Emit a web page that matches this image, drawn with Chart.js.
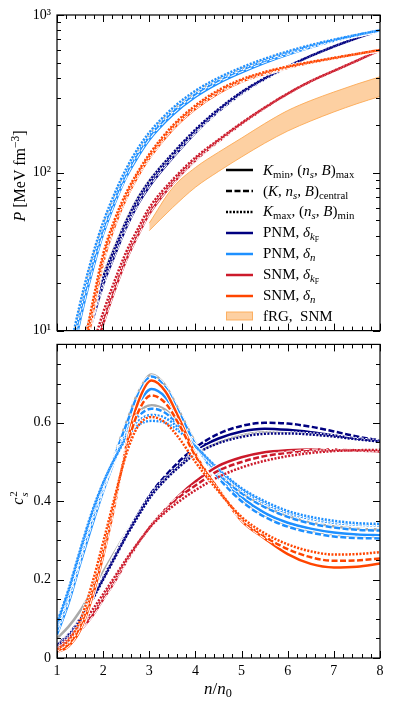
<!DOCTYPE html>
<html>
<head>
<meta charset="utf-8">
<script src="https://cdn.jsdelivr.net/npm/chart.js@4.4.1/dist/chart.umd.min.js"></script>
<style>
  html, body { margin: 0; padding: 0; background: #fff; }
  body { position: relative; width: 395px; height: 704px; overflow: hidden;
         font-family: "Liberation Serif", "DejaVu Serif", serif; color: #000; }
  canvas { position: absolute; left: 0; }
  #topChart { top: 0; }
  #botChart { top: 330px; }
  .lab { position: absolute; white-space: nowrap; font-size: 16px; line-height: 1; }
  .rot { transform: translate(-50%, -50%) rotate(-90deg); }
  .ctr { transform: translate(-50%, -50%); }
  sub, sup { font-size: 72%; line-height: 0; }
  sub { vertical-align: -0.3em; }
  sup { vertical-align: 0.55em; }
  .ss { display: inline-block; vertical-align: middle; font-size: 11px; line-height: 1; text-align: left; margin-left: 1px; }
  .ss span { display: block; }
  .row { position: absolute; left: 226px; height: 18px; display: flex; align-items: center; font-size: 15px; white-space: nowrap; }
  .row svg { flex: none; margin-right: 10px; }
</style>
</head>
<body>
<canvas id="topChart" width="395" height="345" style="width:395px;height:345px"></canvas>
<canvas id="botChart" width="395" height="374" style="width:395px;height:374px"></canvas>

<div class="lab rot" style="left:20px;top:176px"><i>P</i> [MeV fm<sup>&minus;3</sup>]</div>
<div class="lab rot" style="left:19px;top:498px"><i>c</i><span class="ss"><span>2</span><span><i>s</i></span></span></div>
<div class="lab ctr" style="left:218px;top:688px;font-size:17px"><i>n</i>/<i>n</i><sub>0</sub></div>
<div id="legend"></div>

<script>
// density grids n/n0
const nTop = [1, 1.2, 1.4, 1.6, 1.8, 2, 2.25, 2.5, 2.75, 3, 3.5, 4, 4.5, 5, 5.5, 6, 6.5, 7, 7.5, 8]
const nBot = [1, 1.25, 1.5, 1.75, 2, 2.25, 2.5, 2.75, 3.05, 3.35, 3.65, 4, 4.5, 5, 5.5, 6, 6.5, 7, 7.5, 8]
const nBand = [3, 3.5, 4, 4.5, 5, 5.5, 6, 6.5, 7, 7.5, 8]

// pressure P [MeV fm^-3]; Min = K_min,(n_s,B)_max  Cen = central  Max = K_max,(n_s,B)_min
const pPnmKfMin = [1.2, 2.5, 4.6, 7.8, 12.5, 19.5, 30, 45, 63, 82, 124, 180, 245, 318, 392, 468, 548, 630, 714, 800]
const pPnmKfCen = [1.3, 2.7, 4.9, 8.3, 13.3, 20.5, 31.5, 47, 65.5, 85, 128, 184, 249, 322, 395, 470, 550, 631, 714, 800]
const pPnmKfMax = [1.4, 2.9, 5.3, 8.9, 14.2, 21.8, 33.3, 49.3, 68.5, 88.5, 132, 188, 253, 325, 398, 472, 551, 632, 715, 800]
const pPnmNMin = [1.9, 4.2, 8.5, 15.5, 26, 41, 64, 94, 126, 162, 232, 303, 370, 433, 498, 562, 625, 686, 744, 800]
const pPnmNCen = [2.2, 4.8, 9.6, 17.2, 28.5, 44, 68, 99, 133, 170, 243, 316, 385, 449, 513, 575, 635, 692, 747, 800]
const pPnmNMax = [2.6, 5.7, 11, 19.5, 32, 48.5, 74, 106, 142, 180, 256, 331, 400, 465, 528, 588, 645, 698, 749, 800]
const pSnmKfMin = [0.6, 1.3, 2.5, 4.3, 7, 11, 18, 28, 40, 55, 85, 120, 158, 204, 257, 316, 380, 442, 513, 600]
const pSnmKfCen = [0.65, 1.4, 2.7, 4.6, 7.5, 11.7, 19, 29.3, 41.5, 57, 87, 122, 160, 205, 258, 317, 380, 442, 513, 600]
const pSnmKfMax = [0.75, 1.6, 3.1, 5.2, 8.4, 13, 20.7, 31.5, 44, 60, 90, 125, 162, 207, 259, 318, 381, 443, 514, 600]
const pSnmNMin = [1, 2.2, 4, 7, 14, 27, 46, 69, 95, 124, 188, 255, 320, 378, 424, 463, 498, 530, 565, 600]
const pSnmNCen = [1.1, 2.4, 4.4, 7.7, 15, 28.5, 48, 71.5, 98, 127, 193, 261, 327, 385, 430, 468, 501, 533, 566, 600]
const pSnmNMax = [1.2, 2.7, 4.9, 8.5, 16.5, 30.5, 50.5, 74.5, 101, 131, 198, 267, 334, 391, 435, 472, 504, 535, 567, 600]
const pGreyA = [1.4, 3, 5.5, 9.3, 14.8, 22.5, 34, 50, 69, 89, 131, 186, 250, 322, 395, 470, 549, 630, 714, 800]
const pGreyB = [2.4, 5.3, 10.4, 18.5, 30.5, 46.5, 71, 102, 137, 175, 249, 323, 392, 457, 520, 581, 640, 695, 748, 800]
const pBandHigh = [48, 80, 108, 135, 166, 205, 248, 287, 325, 365, 406]
const pBandLow = [43, 60, 81, 102, 126, 154, 184, 213, 243, 274, 305]

// speed of sound squared c_s^2
const csPnmKfMin = [0.035, 0.06, 0.1, 0.15, 0.205, 0.26, 0.315, 0.365, 0.42, 0.46, 0.495, 0.53, 0.56, 0.578, 0.585, 0.582, 0.576, 0.568, 0.56, 0.553]
const csPnmKfCen = [0.033, 0.058, 0.098, 0.148, 0.203, 0.258, 0.313, 0.365, 0.422, 0.465, 0.502, 0.537, 0.572, 0.592, 0.6, 0.598, 0.59, 0.578, 0.565, 0.555]
const csPnmKfMax = [0.03, 0.055, 0.095, 0.145, 0.2, 0.255, 0.31, 0.36, 0.415, 0.455, 0.488, 0.52, 0.548, 0.564, 0.572, 0.573, 0.57, 0.565, 0.558, 0.552]
const csPnmNMin = [0.06, 0.14, 0.24, 0.335, 0.425, 0.505, 0.58, 0.645, 0.686, 0.665, 0.61, 0.54, 0.465, 0.41, 0.37, 0.345, 0.33, 0.32, 0.315, 0.313]
const csPnmNCen = [0.07, 0.155, 0.255, 0.35, 0.435, 0.515, 0.595, 0.67, 0.718, 0.69, 0.625, 0.545, 0.46, 0.4, 0.36, 0.335, 0.32, 0.31, 0.306, 0.305]
const csPnmNCen2 = [0.08, 0.165, 0.265, 0.36, 0.44, 0.51, 0.57, 0.615, 0.636, 0.625, 0.59, 0.54, 0.47, 0.42, 0.385, 0.36, 0.343, 0.333, 0.327, 0.325]
const csPnmNMax = [0.085, 0.17, 0.27, 0.365, 0.445, 0.51, 0.565, 0.603, 0.62, 0.612, 0.585, 0.54, 0.48, 0.43, 0.395, 0.37, 0.355, 0.345, 0.34, 0.338]
const csPnmNMax2 = [0.09, 0.175, 0.275, 0.37, 0.447, 0.508, 0.56, 0.593, 0.605, 0.6, 0.578, 0.54, 0.482, 0.433, 0.4, 0.375, 0.36, 0.35, 0.344, 0.342]
const csSnmKfMin = [0.02, 0.04, 0.07, 0.105, 0.15, 0.195, 0.245, 0.29, 0.34, 0.38, 0.415, 0.45, 0.49, 0.512, 0.525, 0.53, 0.532, 0.532, 0.53, 0.527]
const csSnmKfCen = [0.022, 0.045, 0.075, 0.11, 0.155, 0.2, 0.248, 0.292, 0.34, 0.377, 0.41, 0.44, 0.478, 0.5, 0.515, 0.523, 0.528, 0.53, 0.529, 0.527]
const csSnmKfMax = [0.025, 0.05, 0.082, 0.12, 0.163, 0.207, 0.252, 0.293, 0.338, 0.372, 0.4, 0.428, 0.462, 0.486, 0.503, 0.515, 0.523, 0.528, 0.53, 0.531]
const csSnmNMin = [0.015, 0.03, 0.07, 0.15, 0.26, 0.39, 0.54, 0.65, 0.708, 0.68, 0.61, 0.52, 0.43, 0.35, 0.305, 0.265, 0.24, 0.231, 0.233, 0.241]
const csSnmNCen = [0.018, 0.035, 0.08, 0.165, 0.275, 0.4, 0.53, 0.625, 0.67, 0.65, 0.595, 0.515, 0.43, 0.355, 0.31, 0.278, 0.257, 0.248, 0.249, 0.254]
const csSnmNMax = [0.022, 0.045, 0.095, 0.185, 0.295, 0.41, 0.52, 0.59, 0.615, 0.6, 0.56, 0.5, 0.425, 0.36, 0.318, 0.29, 0.272, 0.264, 0.265, 0.27]
const csGreyA = [0.075, 0.16, 0.26, 0.355, 0.44, 0.52, 0.6, 0.675, 0.723, 0.695, 0.63, 0.55, 0.465, 0.405, 0.365, 0.34, 0.325, 0.315, 0.311, 0.31]
const csGreyB = [0.085, 0.17, 0.27, 0.365, 0.445, 0.515, 0.578, 0.625, 0.645, 0.633, 0.597, 0.545, 0.473, 0.423, 0.388, 0.363, 0.346, 0.336, 0.33, 0.328]
const csGreyC = [0.05, 0.08, 0.12, 0.17, 0.22, 0.27, 0.32, 0.365, 0.415, 0.455, 0.49, 0.52, 0.55, 0.568, 0.577, 0.578, 0.573, 0.566, 0.559, 0.553]

// ticks
const nTicks = [1, 2, 3, 4, 5, 6, 7, 8]
const nTickLabels = ['1', '2', '3', '4', '5', '6', '7', '8']
const pTicks = [10, 100, 1000]
const pTickLabels = ['10¹', '10²', '10³']
const csTicks = [0, 0.2, 0.4, 0.6, 0.8]
const csTickLabels = ['0', '0.2', '0.4', '0.6', '']

const NAVY = '#000080'
const BLUE = '#1e90ff'
const RED = '#cc1a2b'
const ORANGE = '#ff4500'
const GREY = '#aaaaaa'
const BAND = 'rgba(252,170,85,0.55)'
const BAND_EDGE = 'rgba(252,170,85,0.9)'
const SOLID = []
const DASHED = [6, 2.5]
const DOTTED = [2, 1.5]

Chart.defaults.font.family = '"Liberation Serif", "DejaVu Serif", serif'
Chart.defaults.font.size = 14
Chart.defaults.color = '#000'

const xyOf = (xs, ys) => xs.map((x, i) => ({x: x, y: ys[i]}))

function addCurve (list, xs, ys, color, dash) {
  const common = {data: xyOf(xs, ys), borderDash: dash, pointRadius: 0, fill: false,
    cubicInterpolationMode: 'monotone', borderCapStyle: 'butt', borderJoinStyle: 'round'}
  list.push(Object.assign({borderColor: '#fff', borderWidth: 4.5}, common))
  list.push(Object.assign({borderColor: color, borderWidth: 2.5}, common))
}

function minorTicks (lo, hi, step) {
  const out = []
  for (let v = lo; v <= hi + 1e-9; v += step) out.push(+v.toFixed(4))
  return out
}
const pMinor = []
for (const d of [10, 100]) for (let k = 2; k <= 9; k += 1) pMinor.push(d * k)

// inward tick marks on all four sides and the box
const frame = {
  id: 'frame',
  afterDraw (chart, args, opts) {
    const {ctx, chartArea: a, scales} = chart
    const sx = scales.x
    const sy = scales.y
    ctx.save()
    ctx.strokeStyle = '#000'
    ctx.lineWidth = 1
    ctx.beginPath()
    const xt = (v, len) => {
      const px = Math.round(sx.getPixelForValue(v)) + 0.5
      ctx.moveTo(px, a.bottom); ctx.lineTo(px, a.bottom - len)
      ctx.moveTo(px, a.top); ctx.lineTo(px, a.top + len)
    }
    const yt = (v, len) => {
      const py = Math.round(sy.getPixelForValue(v)) + 0.5
      ctx.moveTo(a.left, py); ctx.lineTo(a.left + len, py)
      ctx.moveTo(a.right, py); ctx.lineTo(a.right - len, py)
    }
    opts.xMajor.forEach(v => xt(v, 7))
    opts.xMinor.forEach(v => xt(v, 4))
    opts.yMajor.forEach(v => yt(v, 7))
    opts.yMinor.forEach(v => yt(v, 4))
    ctx.stroke()
    ctx.lineWidth = 1.2
    ctx.strokeRect(a.left, a.top, a.right - a.left, a.bottom - a.top)
    ctx.restore()
  }
}

function finish (list) {
  list.forEach((d, i) => { d.order = -i })
  return list
}

// top panel: pressure
const topSets = []
topSets.push({data: xyOf(nBand, pBandHigh), borderColor: BAND_EDGE, borderWidth: 1, pointRadius: 0,
  backgroundColor: BAND, fill: '+1', cubicInterpolationMode: 'monotone'})
topSets.push({data: xyOf(nBand, pBandLow), borderColor: BAND_EDGE, borderWidth: 1, pointRadius: 0,
  fill: false, cubicInterpolationMode: 'monotone'})
addCurve(topSets, nTop, pGreyA, GREY, SOLID)
addCurve(topSets, nTop, pGreyB, GREY, SOLID)
addCurve(topSets, nTop, pPnmKfMin, NAVY, SOLID)
addCurve(topSets, nTop, pPnmKfCen, NAVY, DASHED)
addCurve(topSets, nTop, pPnmKfMax, NAVY, DOTTED)
addCurve(topSets, nTop, pPnmNMin, BLUE, SOLID)
addCurve(topSets, nTop, pPnmNCen, BLUE, DASHED)
addCurve(topSets, nTop, pPnmNMax, BLUE, DOTTED)
addCurve(topSets, nTop, pSnmKfMin, RED, SOLID)
addCurve(topSets, nTop, pSnmKfCen, RED, DASHED)
addCurve(topSets, nTop, pSnmKfMax, RED, DOTTED)
addCurve(topSets, nTop, pSnmNMin, ORANGE, SOLID)
addCurve(topSets, nTop, pSnmNCen, ORANGE, DASHED)
addCurve(topSets, nTop, pSnmNMax, ORANGE, DOTTED)

// bottom panel: speed of sound
const botSets = []
addCurve(botSets, nBot, csGreyA, GREY, SOLID)
addCurve(botSets, nBot, csGreyB, GREY, SOLID)
addCurve(botSets, nBot, csGreyC, GREY, SOLID)
addCurve(botSets, nBot, csPnmKfMin, NAVY, SOLID)
addCurve(botSets, nBot, csPnmKfCen, NAVY, DASHED)
addCurve(botSets, nBot, csPnmKfMax, NAVY, DOTTED)
addCurve(botSets, nBot, csPnmNMin, BLUE, SOLID)
addCurve(botSets, nBot, csPnmNCen, BLUE, DASHED)
addCurve(botSets, nBot, csPnmNCen2, BLUE, DASHED)
addCurve(botSets, nBot, csPnmNMax, BLUE, DOTTED)
addCurve(botSets, nBot, csPnmNMax2, BLUE, DOTTED)
addCurve(botSets, nBot, csSnmKfMin, RED, SOLID)
addCurve(botSets, nBot, csSnmKfCen, RED, DASHED)
addCurve(botSets, nBot, csSnmKfMax, RED, DOTTED)
addCurve(botSets, nBot, csSnmNMin, ORANGE, SOLID)
addCurve(botSets, nBot, csSnmNCen, ORANGE, DASHED)
addCurve(botSets, nBot, csSnmNMax, ORANGE, DOTTED)

const noGrid = {display: false, drawTicks: false}
const baseOptions = {
  responsive: false,
  animation: false,
  events: [],
  plugins: {legend: {display: false}, tooltip: {enabled: false}}
}

new Chart(document.getElementById('topChart'), {
  type: 'line',
  data: {datasets: finish(topSets)},
  options: Object.assign({}, baseOptions, {
    layout: {padding: {top: 15, right: 15, bottom: 8, left: 0}},
    plugins: Object.assign({}, baseOptions.plugins, {
      frame: {xMajor: nTicks, xMinor: minorTicks(1, 8, 0.2), yMajor: pTicks, yMinor: pMinor}
    }),
    scales: {
      x: {type: 'linear', min: 1, max: 8, display: false},
      y: {
        type: 'logarithmic', min: 10, max: 1000,
        grid: noGrid, border: {display: false},
        afterBuildTicks: s => { s.ticks = pTicks.map(v => ({value: v})) },
        afterFit: s => { s.width = 57 },
        ticks: {padding: 6, autoSkip: false, callback: v => pTickLabels[pTicks.indexOf(v)]}
      }
    }
  }),
  plugins: [frame]
})

new Chart(document.getElementById('botChart'), {
  type: 'line',
  data: {datasets: finish(botSets)},
  options: Object.assign({}, baseOptions, {
    layout: {padding: {top: 7, right: 15, bottom: 16, left: 0}},
    plugins: Object.assign({}, baseOptions.plugins, {
      frame: {xMajor: nTicks, xMinor: minorTicks(1, 8, 0.2), yMajor: csTicks, yMinor: minorTicks(0, 0.8, 0.05)}
    }),
    scales: {
      x: {
        type: 'linear', min: 1, max: 8,
        grid: noGrid, border: {display: false},
        afterBuildTicks: s => { s.ticks = nTicks.map(v => ({value: v})) },
        afterFit: s => { s.height = 30 },
        ticks: {padding: 5, autoSkip: false, maxRotation: 0, callback: v => nTickLabels[nTicks.indexOf(v)]}
      },
      y: {
        type: 'linear', min: 0, max: 0.8,
        grid: noGrid, border: {display: false},
        afterBuildTicks: s => { s.ticks = csTicks.map(v => ({value: v})) },
        afterFit: s => { s.width = 57 },
        ticks: {padding: 6, autoSkip: false, callback: v => csTickLabels[csTicks.indexOf(v)]}
      }
    }
  }),
  plugins: [frame]
})

// legend
const legendRows = [
  {y: 170, kind: 'line', color: '#000', dash: SOLID, html: '<i>K</i><sub>min</sub>, (<i>n<sub>s</sub></i>, <i>B</i>)<sub>max</sub>'},
  {y: 191, kind: 'line', color: '#000', dash: DASHED, html: '(<i>K</i>, <i>n<sub>s</sub></i>, <i>B</i>)<sub>central</sub>'},
  {y: 211.5, kind: 'line', color: '#000', dash: DOTTED, html: '<i>K</i><sub>max</sub>, (<i>n<sub>s</sub></i>, <i>B</i>)<sub>min</sub>'},
  {y: 232.5, kind: 'line', color: NAVY, dash: SOLID, html: 'PNM, <i>δ</i><sub><i>k</i><sub>F</sub></sub>'},
  {y: 253.5, kind: 'line', color: BLUE, dash: SOLID, html: 'PNM, <i>δ<sub>n</sub></i>'},
  {y: 274.5, kind: 'line', color: RED, dash: SOLID, html: 'SNM, <i>δ</i><sub><i>k</i><sub>F</sub></sub>'},
  {y: 295.5, kind: 'line', color: ORANGE, dash: SOLID, html: 'SNM, <i>δ<sub>n</sub></i>'},
  {y: 316, kind: 'band', html: 'fRG,&nbsp; SNM'}
]
const legend = document.getElementById('legend')
for (const r of legendRows) {
  const row = document.createElement('div')
  row.className = 'row'
  row.style.top = (r.y - 9) + 'px'
  const mark = r.kind === 'band'
    ? `<rect x="0.5" y="5" width="26" height="8" fill="${BAND}" stroke="${BAND_EDGE}" stroke-width="1"/>`
    : `<line x1="0" y1="9" x2="27" y2="9" stroke="${r.color}" stroke-width="2.5" stroke-dasharray="${r.dash.join(' ')}"/>`
  row.innerHTML = `<svg width="27" height="18" viewBox="0 0 27 18">${mark}</svg><span>${r.html}</span>`
  legend.appendChild(row)
}
</script>
</body>
</html>
